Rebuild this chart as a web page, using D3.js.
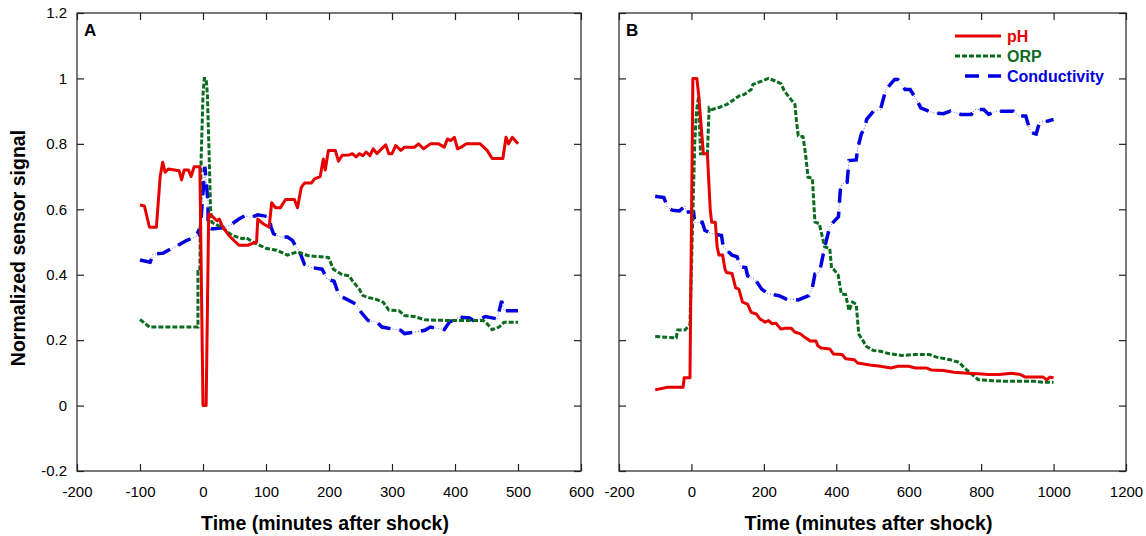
<!DOCTYPE html>
<html lang="en">
<head>
<meta charset="UTF-8">
<title>Normalized sensor signal</title>
<style>
  body { margin: 0; background: #fff; }
  svg text { font-family: "Liberation Sans", Arial, sans-serif; }
</style>
</head>
<body>
<svg id="chart" width="1146" height="536"></svg>
<script src="https://d3js.org/d3.v7.min.js"></script>
<script>
// ---- data: panel A (time in minutes, normalized value) ----
var phA_t = [-100,-93,-85,-74,-68,-64,-60,-55,-38,-34,-30,-23,-19,-14,-5,0,5,9,14,22,26,30,41,57,71,85,87,96,105,109,115,123,131,145,150,156,161,172,177,186,191,194,199,210,215,221,232,237,243,248,254,259,265,270,276,281,290,295,300,306,314,320,336,342,350,361,374,383,388,393,399,404,410,418,440,451,459,476,481,485,491,500];
var phA_v = [0.613,0.61,0.545,0.545,0.70,0.744,0.713,0.723,0.718,0.69,0.72,0.72,0.70,0.73,0.73,0,0,0.586,0.58,0.565,0.57,0.55,0.52,0.49,0.49,0.50,0.57,0.555,0.545,0.62,0.605,0.605,0.63,0.63,0.605,0.667,0.68,0.68,0.693,0.70,0.754,0.72,0.78,0.78,0.747,0.765,0.766,0.77,0.76,0.77,0.764,0.775,0.764,0.785,0.77,0.78,0.797,0.77,0.77,0.795,0.78,0.79,0.79,0.80,0.785,0.80,0.80,0.79,0.815,0.81,0.82,0.785,0.79,0.80,0.80,0.78,0.755,0.755,0.82,0.80,0.82,0.80];

var orpA_t = [-100,-85,-8,-8,-5,-3,0,2,5,7,10,12,14,30,46,63,68,79,90,101,117,134,150,167,199,207,221,232,237,248,254,262,273,286,295,311,320,336,352,391,429,445,451,459,470,478,500];
var orpA_v = [0.263,0.24,0.24,0.41,0.41,0.75,0.95,1.0,1.0,0.95,0.75,0.60,0.56,0.545,0.52,0.51,0.514,0.50,0.49,0.48,0.475,0.46,0.47,0.458,0.453,0.417,0.40,0.397,0.382,0.356,0.336,0.33,0.326,0.316,0.292,0.29,0.275,0.272,0.262,0.26,0.26,0.26,0.25,0.232,0.24,0.255,0.255];

var condA_t = [-100,-84,-79,-63,-52,-41,-27,-11,-8,-5,3,8,8,14,36,46,57,66,76,87,105,108,112,123,134,142,148,153,161,172,189,197,208,216,227,243,251,262,276,284,298,314,320,333,352,361,383,391,407,423,429,437,448,459,467,474,478,500];
var condA_v = [0.445,0.438,0.463,0.466,0.478,0.488,0.504,0.517,0.53,0.52,0.73,0.62,0.545,0.54,0.545,0.555,0.57,0.58,0.575,0.583,0.577,0.545,0.525,0.515,0.515,0.505,0.484,0.473,0.432,0.422,0.417,0.387,0.38,0.336,0.326,0.31,0.285,0.26,0.255,0.24,0.235,0.23,0.22,0.224,0.23,0.24,0.232,0.255,0.27,0.268,0.26,0.262,0.272,0.268,0.265,0.32,0.29,0.29];

// ---- data: panel B ----
var phB_t = [-100,-66,-23,-20,-4,4,15,20,33,44,52,56,66,71,76,86,93,97,112,122,131,141,155,165,179,189,204,213,223,233,247,257,276,286,300,315,329,344,349,358,382,392,416,426,450,459,493,522,551,570,599,619,648,662,696,725,763,792,821,850,884,908,922,971,981,990,1000];
var phB_v = [0.048,0.056,0.056,0.085,0.085,1.0,1.0,0.95,0.77,0.77,0.597,0.56,0.56,0.485,0.46,0.46,0.415,0.407,0.404,0.36,0.356,0.316,0.31,0.285,0.28,0.265,0.255,0.26,0.25,0.252,0.234,0.236,0.236,0.224,0.22,0.207,0.197,0.197,0.183,0.176,0.173,0.158,0.156,0.143,0.14,0.13,0.124,0.12,0.115,0.12,0.12,0.115,0.115,0.109,0.107,0.102,0.099,0.097,0.095,0.095,0.099,0.095,0.087,0.087,0.079,0.087,0.085];

var orpB_t = [-100,-71,-42,-38,-18,-4,9,14,20,25,44,49,57,78,97,117,131,146,165,170,194,213,232,247,257,286,290,295,308,315,322,334,341,353,368,382,387,392,405,414,426,435,445,455,462,484,503,522,541,580,619,657,677,715,739,754,768,792,831,870,908,946,975,1000];
var orpB_v = [0.211,0.209,0.207,0.231,0.231,0.247,0.80,0.90,0.946,0.77,0.77,0.91,0.905,0.912,0.92,0.935,0.946,0.951,0.966,0.982,0.992,1.0,0.992,0.984,0.961,0.92,0.87,0.825,0.822,0.77,0.698,0.695,0.561,0.556,0.485,0.48,0.42,0.417,0.40,0.341,0.339,0.29,0.316,0.31,0.219,0.18,0.168,0.166,0.16,0.153,0.156,0.156,0.148,0.14,0.132,0.115,0.102,0.079,0.076,0.074,0.074,0.074,0.071,0.071];

var condB_t = [-100,-76,-66,-52,-33,-18,-14,6,9,30,37,54,83,88,112,126,136,150,155,175,194,213,242,261,295,324,334,341,353,358,368,382,392,406,411,416,430,435,455,459,469,479,484,503,522,537,561,570,590,604,624,633,667,696,715,744,773,783,807,821,841,889,904,923,937,952,961,985,1000];
var condB_v = [0.64,0.636,0.605,0.597,0.595,0.61,0.592,0.592,0.56,0.56,0.536,0.526,0.52,0.485,0.46,0.455,0.424,0.422,0.397,0.387,0.356,0.341,0.336,0.326,0.323,0.336,0.361,0.402,0.407,0.43,0.485,0.546,0.561,0.577,0.658,0.678,0.683,0.749,0.751,0.785,0.83,0.85,0.875,0.90,0.905,0.966,0.997,0.997,0.966,0.966,0.931,0.91,0.895,0.892,0.90,0.89,0.89,0.905,0.905,0.89,0.90,0.90,0.885,0.885,0.835,0.83,0.866,0.87,0.875];

var yTicks = [-0.2, 0, 0.2, 0.4, 0.6, 0.8, 1, 1.2];
var xTicksA = [-200, -100, 0, 100, 200, 300, 400, 500, 600];
var xTicksB = [-200, 0, 200, 400, 600, 800, 1000, 1200];
var seriesNames = ["pH", "ORP", "Conductivity"];

var colors = { pH: "#e60000", ORP: "#0b6b1f", Conductivity: "#0000e0" };

function zip(t, v) { return t.map(function(d, i) { return [d, v[i]]; }); }

var svg = d3.select("#chart");
var plotTop = 13, plotBottom = 471;

var y = d3.scaleLinear().domain([-0.2, 1.2]).range([plotBottom, plotTop]);

var panels = [
  { name: "A", x0: 77, x1: 581, domain: [-200, 600], ticks: xTicksA, yLabels: true,
    series: { pH: zip(phA_t, phA_v), ORP: zip(orpA_t, orpA_v), Conductivity: zip(condA_t, condA_v) } },
  { name: "B", x0: 619, x1: 1126, domain: [-200, 1200], ticks: xTicksB, yLabels: false,
    series: { pH: zip(phB_t, phB_v), ORP: zip(orpB_t, orpB_v), Conductivity: zip(condB_t, condB_v) } }
];

function plain(d) { return String(+d.toFixed(1)); }

panels.forEach(function(p) {
  var x = d3.scaleLinear().domain(p.domain).range([p.x0, p.x1]);
  var g = svg.append("g");

  var line = d3.line().x(function(d) { return x(d[0]); }).y(function(d) { return y(d[1]); });

  // data lines
  var cond = p.series.Conductivity;
  g.append("path").datum(cond).attr("d", line)
    .attr("fill", "none").attr("stroke", colors.Conductivity)
    .attr("stroke-width", 1).attr("stroke-dasharray", "1,2").attr("opacity", 0.6);
  g.append("path").datum(cond).attr("d", line)
    .attr("fill", "none").attr("stroke", colors.Conductivity)
    .attr("stroke-width", 3.5).attr("stroke-dasharray", "14,9");

  g.append("path").datum(p.series.ORP).attr("d", line)
    .attr("fill", "none").attr("stroke", colors.ORP)
    .attr("stroke-width", 3).attr("stroke-dasharray", "5,2");

  g.append("path").datum(p.series.pH).attr("d", line)
    .attr("fill", "none").attr("stroke", colors.pH)
    .attr("stroke-width", 3).attr("stroke-linejoin", "round");

  // frame
  g.append("rect").attr("x", p.x0).attr("y", plotTop)
    .attr("width", p.x1 - p.x0).attr("height", plotBottom - plotTop)
    .attr("fill", "none").attr("stroke", "#222").attr("stroke-width", 1.2);

  // inward ticks on all sides
  var bAxis = d3.axisBottom(x).tickValues(p.ticks).tickSizeInner(-7).tickSizeOuter(0).tickPadding(15)
    .tickFormat(plain);
  var gb = g.append("g").attr("transform", "translate(0," + plotBottom + ")").call(bAxis);
  gb.select(".domain").remove();
  gb.selectAll("text").attr("font-size", 15).attr("fill", "#000")
    .attr("font-family", "Liberation Sans, Arial, sans-serif");

  var tAxis = d3.axisTop(x).tickValues(p.ticks).tickSizeInner(-7).tickSizeOuter(0).tickFormat("");
  var gt = g.append("g").attr("transform", "translate(0," + plotTop + ")").call(tAxis);
  gt.select(".domain").remove();

  var lAxis = d3.axisLeft(y).tickValues(yTicks).tickSizeInner(-7).tickSizeOuter(0).tickPadding(10)
    .tickFormat(p.yLabels ? plain : "");
  var gl = g.append("g").attr("transform", "translate(" + p.x0 + ",0)").call(lAxis);
  gl.select(".domain").remove();
  gl.selectAll("text").attr("font-size", 15).attr("fill", "#000")
    .attr("font-family", "Liberation Sans, Arial, sans-serif");

  var rAxis = d3.axisRight(y).tickValues(yTicks).tickSizeInner(-7).tickSizeOuter(0).tickFormat("");
  var gr = g.append("g").attr("transform", "translate(" + p.x1 + ",0)").call(rAxis);
  gr.select(".domain").remove();

  g.selectAll(".tick line").attr("stroke", "#222").attr("stroke-width", 1.2);

  // panel letter
  g.append("text").attr("x", p.x0 + 7).attr("y", plotTop + 23)
    .attr("font-size", 17).attr("font-weight", "bold").text(p.name);

  // x axis title
  g.append("text").attr("x", (p.x0 + p.x1) / 2 - 4).attr("y", 530)
    .attr("text-anchor", "middle").attr("font-size", 19.5).attr("font-weight", "bold")
    .text("Time (minutes after shock)");
});

// y axis title
svg.append("text")
  .attr("transform", "translate(25,248) rotate(-90)")
  .attr("text-anchor", "middle").attr("font-size", 19.5).attr("font-weight", "bold")
  .text("Normalized sensor signal");

// legend in panel B
var legendDash = { pH: null, ORP: "5,2", Conductivity: "14,9" };
var legend = svg.append("g");
seriesNames.forEach(function(name, i) {
  var ly = 36 + i * 20;
  legend.append("line").attr("x1", name === "Conductivity" ? 965 : 955).attr("x2", 1001)
    .attr("y1", ly).attr("y2", ly)
    .attr("stroke", colors[name]).attr("stroke-width", name === "Conductivity" ? 3.5 : 3)
    .attr("stroke-dasharray", legendDash[name]);
  legend.append("text").attr("x", 1007).attr("y", ly + 6)
    .attr("font-size", 16).attr("font-weight", "bold").attr("fill", colors[name])
    .text(name);
});
</script>
</body>
</html>
